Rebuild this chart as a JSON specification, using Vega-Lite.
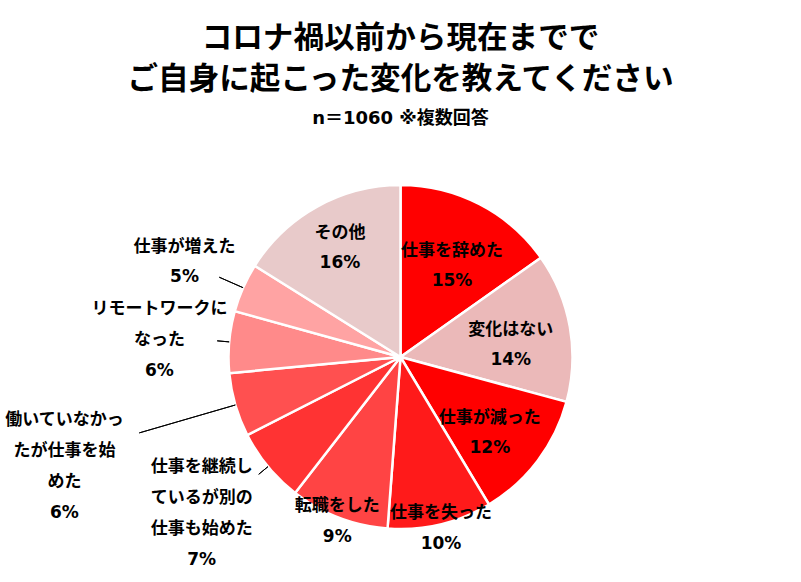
{
  "$schema": "https://vega.github.io/schema/vega-lite/v6.json",
  "width": 801,
  "height": 450,
  "autosize": {"type": "none"},
  "padding": {"left": 0, "top": 132, "right": 0, "bottom": 0},
  "background": "white",
  "title": {
    "text": ["コロナ禍以前から現在までで", "ご自身に起こった変化を教えてください"],
    "subtitle": "n＝1060 ※複数回答",
    "font": "Noto Sans CJK JP",
    "fontSize": 30.6,
    "fontWeight": "bold",
    "lineHeight": 41,
    "color": "black",
    "subtitleFont": "DejaVu Sans, Noto Sans CJK JP",
    "subtitleFontSize": 18,
    "subtitleFontWeight": "bold",
    "subtitleColor": "black",
    "subtitlePadding": 14,
    "anchor": "middle",
    "offset": 4
  },
  "data": {
    "values": [
      {"order": 1, "category": "仕事を辞めた", "value": 15.2, "label": "仕事を辞めた\n15%"},
      {"order": 2, "category": "変化はない", "value": 14.0, "label": "変化はない\n14%"},
      {"order": 3, "category": "仕事が減った", "value": 12.2, "label": "仕事が減った\n12%"},
      {"order": 4, "category": "仕事を失った", "value": 9.8, "label": "仕事を失った\n10%"},
      {"order": 5, "category": "転職をした", "value": 9.3, "label": "転職をした\n9%"},
      {"order": 6, "category": "仕事を継続しているが別の仕事も始めた", "value": 7.0, "label": "仕事を継続し\nているが別の\n仕事も始めた\n7%"},
      {"order": 7, "category": "働いていなかったが仕事を始めた", "value": 6.0, "label": "働いていなかっ\nたが仕事を始\nめた\n6%"},
      {"order": 8, "category": "リモートワークになった", "value": 5.8, "label": "リモートワークに\nなった\n6%"},
      {"order": 9, "category": "仕事が増えた", "value": 4.6, "label": "仕事が増えた\n5%"},
      {"order": 10, "category": "その他", "value": 16.1, "label": "その他\n16%"}
    ]
  },
  "encoding": {
    "theta": {"field": "value", "type": "quantitative", "stack": true},
    "order": {"field": "order", "type": "quantitative"},
    "detail": {"field": "category", "type": "nominal"}
  },
  "layer": [
    {
      "mark": {"type": "arc", "outerRadius": 172, "stroke": "white", "strokeWidth": 2.5},
      "encoding": {
        "color": {
          "field": "category",
          "type": "nominal",
          "legend": null,
          "scale": {
            "domain": ["仕事を辞めた", "変化はない", "仕事が減った", "仕事を失った", "転職をした", "仕事を継続しているが別の仕事も始めた", "働いていなかったが仕事を始めた", "リモートワークになった", "仕事が増えた", "その他"],
            "range": ["#FF0000", "#EBB9B9", "#FF0000", "#FF1A1A", "#FF4444", "#FF3333", "#FF5050", "#FF8A8A", "#FFA3A3", "#E8CACA"]
          }
        }
      }
    },
    {
      "mark": {"type": "arc", "radius": 172, "radius2": 184, "padAngle": 3, "stroke": "black", "strokeWidth": 1, "fillOpacity": 0, "clip": true},
      "encoding": {
        "strokeOpacity": {"condition": {"test": "datum.order == 6 || datum.order == 8", "value": 1}, "value": 0}
      }
    },
    {
      "mark": {"type": "arc", "radius": 172, "radius2": 198, "padAngle": 3, "stroke": "black", "strokeWidth": 1, "fillOpacity": 0, "clip": true},
      "encoding": {
        "strokeOpacity": {"condition": {"test": "datum.order == 9", "value": 1}, "value": 0}
      }
    },
    {
      "mark": {"type": "arc", "radius": 172, "radius2": 272, "padAngle": 3, "stroke": "black", "strokeWidth": 1, "fillOpacity": 0, "clip": true},
      "encoding": {
        "strokeOpacity": {"condition": {"test": "datum.order == 7", "value": 1}, "value": 0}
      }
    },
    {
      "mark": {"type": "text", "radius": 112, "dy": -7, "clip": true, "font": "DejaVu Sans, Noto Sans CJK JP", "fontSize": 17, "fontWeight": "bold", "color": "black", "lineBreak": "\n", "lineHeight": 30},
      "encoding": {
        "text": {"condition": {"test": "datum.order <= 3", "field": "label"}, "value": ""}
      }
    },
    {
      "mark": {"type": "text", "radius": 125, "dy": -15, "clip": true, "font": "DejaVu Sans, Noto Sans CJK JP", "fontSize": 17, "fontWeight": "bold", "color": "black", "lineBreak": "\n", "lineHeight": 30},
      "encoding": {
        "text": {"condition": {"test": "datum.order == 10", "field": "label"}, "value": ""}
      }
    },
    {
      "mark": {"type": "text", "radius": 176, "dy": -15, "clip": true, "font": "DejaVu Sans, Noto Sans CJK JP", "fontSize": 17, "fontWeight": "bold", "color": "black", "lineBreak": "\n", "lineHeight": 31},
      "encoding": {
        "text": {"condition": {"test": "datum.order == 4 || datum.order == 5", "field": "label"}, "value": ""}
      }
    },
    {
      "mark": {"type": "text", "radius": 258, "dy": -54, "clip": true, "font": "DejaVu Sans, Noto Sans CJK JP", "fontSize": 17, "fontWeight": "bold", "color": "black", "lineBreak": "\n", "lineHeight": 31},
      "encoding": {
        "text": {"condition": {"test": "datum.order == 6", "field": "label"}, "value": ""}
      }
    },
    {
      "mark": {"type": "text", "radius": 350, "dy": -35, "clip": true, "font": "DejaVu Sans, Noto Sans CJK JP", "fontSize": 17, "fontWeight": "bold", "color": "black", "lineBreak": "\n", "lineHeight": 31},
      "encoding": {
        "text": {"condition": {"test": "datum.order == 7", "field": "label"}, "value": ""}
      }
    },
    {
      "mark": {"type": "text", "radius": 242, "dy": -27, "clip": true, "font": "DejaVu Sans, Noto Sans CJK JP", "fontSize": 17, "fontWeight": "bold", "color": "black", "lineBreak": "\n", "lineHeight": 31},
      "encoding": {
        "text": {"condition": {"test": "datum.order == 8", "field": "label"}, "value": ""}
      }
    },
    {
      "mark": {"type": "text", "radius": 236, "dy": -15, "clip": true, "font": "DejaVu Sans, Noto Sans CJK JP", "fontSize": 17, "fontWeight": "bold", "color": "black", "lineBreak": "\n", "lineHeight": 30},
      "encoding": {
        "text": {"condition": {"test": "datum.order == 9", "field": "label"}, "value": ""}
      }
    }
  ]
}
